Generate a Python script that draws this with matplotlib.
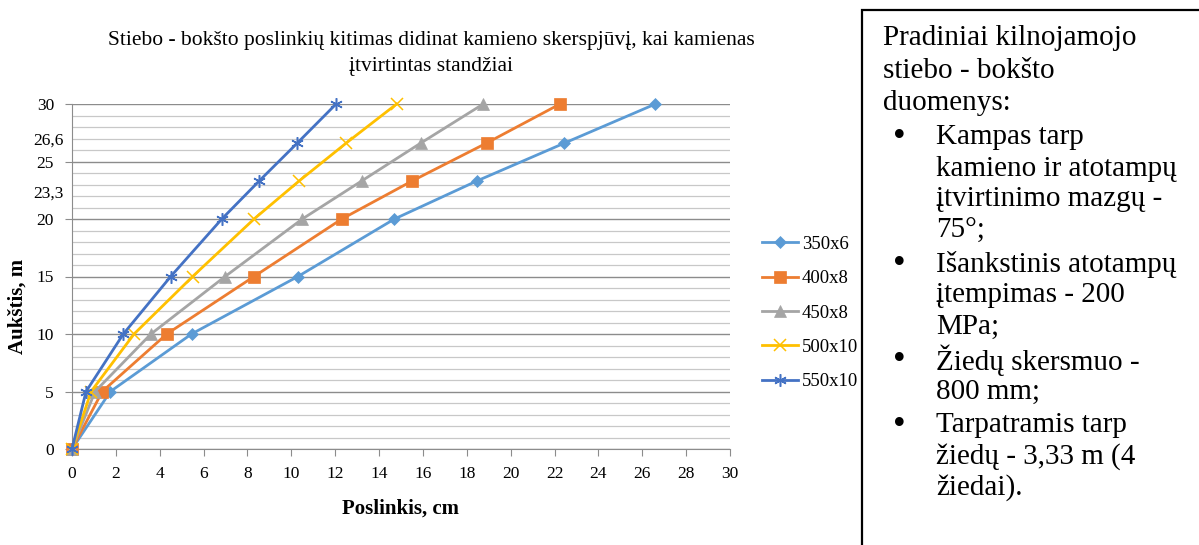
import matplotlib
matplotlib.use('Agg')
import matplotlib.pyplot as plt
from matplotlib.patches import Rectangle
from matplotlib.ticker import MultipleLocator

plt.rcParams['font.family'] = ['Liberation Serif', 'DejaVu Serif']

heights = [0, 5, 10, 15, 20, 23.3, 26.6, 30]

series_names = ['350x6', '400x8', '450x8', '500x10', '550x10']
disp_350x6 = [0, 1.75, 5.45, 10.3, 14.7, 18.45, 22.45, 26.6]
disp_400x8 = [0, 1.38, 4.32, 8.3, 12.3, 15.5, 18.9, 22.25]
disp_450x8 = [0, 1.05, 3.6, 6.98, 10.5, 13.2, 15.9, 18.75]
disp_500x10 = [0, 0.87, 2.83, 5.5, 8.3, 10.35, 12.5, 14.8]
disp_550x10 = [0, 0.64, 2.34, 4.5, 6.83, 8.53, 10.27, 12.04]

colors = ['#5B9BD5', '#ED7D31', '#A5A5A5', '#FFC000', '#4472C4']
markers = ['D', 's', '^', 'x', (6, 2, 0)]
msizes = [6, 8, 8, 9, 9]

extra_ylabels = ['26,6', '23,3']
extra_ylabel_pos = [26.8, 22.2]

info_lines = [
    'Pradiniai kilnojamojo',
    'stiebo - bokšto',
    'duomenys:',
]
info_bullets = [
    ['Kampas tarp', 'kamieno ir atotampų', 'įtvirtinimo mazgų -', '75°;'],
    ['Išankstinis atotampų', 'įtempimas - 200', 'MPa;'],
    ['Žiedų skersmuo -', '800 mm;'],
    ['Tarpatramis tarp', 'žiedų - 3,33 m (4', 'žiedai).'],
]

W, H = 1199, 545
fig = plt.figure(figsize=(W / 100, H / 100), dpi=100)
ax = fig.add_axes([72 / W, 1 - 449 / H, (730 - 72) / W, (449 - 104) / H])

all_disp = [disp_350x6, disp_400x8, disp_450x8, disp_500x10, disp_550x10]
for name, xs, c, m, ms in zip(series_names, all_disp, colors, markers, msizes):
    thin = m == 'x' or isinstance(m, tuple)
    ax.plot(xs, heights, color=c, lw=2, marker=m, markersize=ms,
            markeredgewidth=1.1 if thin else 0.5,
            markeredgecolor=c, label=name, clip_on=False, zorder=3)

ax.set_xlim(0, 30)
ax.set_ylim(0, 30)
ax.xaxis.set_major_locator(MultipleLocator(2))
ax.yaxis.set_major_locator(MultipleLocator(5))
ax.yaxis.set_minor_locator(MultipleLocator(1))
ax.grid(True, which='major', axis='y', color='#8c8c8c', lw=1)
ax.grid(True, which='minor', axis='y', color='#c8c8c8', lw=0.9)
ax.set_axisbelow(True)

for s in ['top', 'right']:
    ax.spines[s].set_visible(False)
ax.spines['left'].set_color('#8c8c8c')
ax.spines['bottom'].set_color('#8c8c8c')
ax.tick_params(axis='both', which='major', colors='#8c8c8c', length=5,
               labelcolor='black', labelsize=12.5)
ax.tick_params(axis='y', which='minor', length=0)
ax.tick_params(axis='y', pad=8)
ax.tick_params(axis='x', pad=7)

for lab, pos in zip(extra_ylabels, extra_ylabel_pos):
    ax.text(-0.013, pos, lab, transform=ax.get_yaxis_transform(),
            ha='right', va='center', fontsize=12.5)

ax.set_xlabel('Poslinkis, cm', fontsize=15, fontweight='bold', labelpad=12)
ax.set_ylabel('Aukštis, m', fontsize=15, fontweight='bold')
ax.yaxis.set_label_coords(-0.067, 0.414)

fig.text(431 / W, 1 - 54 / H,
         'Stiebo - bokšto poslinkių kitimas didinat kamieno skerspjūvį, kai kamienas\n'
         'įtvirtintas standžiai',
         ha='center', va='center', fontsize=15.5, linespacing=1.5)

ax.legend(loc='center left', bbox_to_anchor=(762 / W, 1 - 313 / H),
          bbox_transform=fig.transFigure, frameon=False, fontsize=13.5,
          handlelength=1.93, labelspacing=0.92, handletextpad=0.2,
          borderpad=0, borderaxespad=0)

# text box on the right
fig.patches.append(Rectangle((862 / W, -0.05), 0.5, 1 - 10 / H + 0.05,
                             transform=fig.transFigure, fill=False,
                             edgecolor='black', lw=1.6))
fs = 21
y = 38
for line in info_lines:
    fig.text(883 / W, 1 - y / H, line, ha='left', va='center', fontsize=fs)
    y += 32.5
y += 2
for item in info_bullets:
    fig.text(899 / W, 1 - y / H, '•', ha='center', va='center', fontsize=26)
    for line in item:
        fig.text(936 / W, 1 - y / H, line, ha='left', va='center', fontsize=fs)
        y += 31
    y += 3

fig.savefig('out.png', dpi=100)
